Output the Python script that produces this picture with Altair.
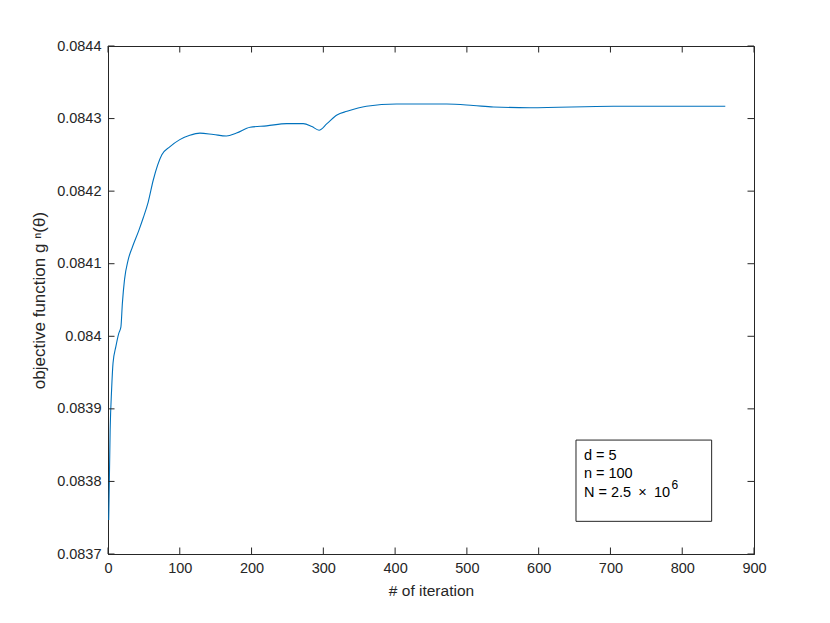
import altair as alt
import pandas as pd

# ---- data ----
iterations = [1, 3, 5, 7, 11, 15, 18, 20, 23, 28, 34, 43, 49, 56, 63, 75, 86,
              100, 114, 128, 147, 165, 179, 198, 221, 249, 272, 284, 294, 305,
              319, 333, 360, 402, 472, 509, 537, 588, 704, 860]
objective = [0.083747, 0.083871, 0.083926, 0.083963, 0.083986, 0.084004,
             0.084013, 0.084045, 0.084078, 0.084105, 0.084123, 0.084146,
             0.084163, 0.084185, 0.084215, 0.084250, 0.084261, 0.084271,
             0.084277, 0.084280, 0.084278, 0.084276, 0.084280, 0.084288,
             0.084290, 0.084293, 0.084293, 0.084289, 0.084284, 0.084293,
             0.084305, 0.084310, 0.084317, 0.084320, 0.084320, 0.084318,
             0.084316, 0.084315, 0.084317, 0.084317]
x_ticks = [0, 100, 200, 300, 400, 500, 600, 700, 800, 900]
y_ticks = [0.0837, 0.0838, 0.0839, 0.0840, 0.0841, 0.0842, 0.0843, 0.0844]
note_lines = ["d = 5", "n = 100", "N = 2.5\u2002\u00d7\u200210"]
note_x = [663, 663, 663]
note_y = [0.0838295, 0.0838047, 0.0837785]
sup_text = ["6"]
sup_x = [785]
sup_y = [0.0837895]
box_x = [652, 841]
box_y = [0.083857, 0.083745]

W, H = 646, 508
FONT = "Liberation Sans"
DARK = "#262626"
TICK = 6.5

xs = alt.Scale(domain=[0, 900], nice=False)
ys = alt.Scale(domain=[0.0837, 0.0844], nice=False, zero=False)
XT = "# of iteration"
YT = "objective function g \u207f(\u03b8)"

df = pd.DataFrame({"iteration": iterations, "objective": objective})

line = alt.Chart(df).mark_line(color="#0072BD", strokeWidth=1.1, interpolate="monotone").encode(
    x=alt.X("iteration:Q", scale=xs,
            axis=alt.Axis(title=XT, values=x_ticks, labelFlush=False, labelOverlap=False,
                          titleFontSize=15.5)),
    y=alt.Y("objective:Q", scale=ys,
            axis=alt.Axis(title=YT, values=y_ticks, format=".4~f", labelFlush=False,
                          labelOverlap=False, titleFontSize=17, titlePadding=8)),
)

box_df = pd.DataFrame({"iteration": [box_x[0]], "iteration2": [box_x[1]],
                       "objective": [box_y[0]], "objective2": [box_y[1]]})
box = alt.Chart(box_df).mark_rect(fill="white", stroke=DARK, strokeWidth=1).encode(
    x=alt.X("iteration:Q", scale=xs, title=XT), x2="iteration2:Q",
    y=alt.Y("objective:Q", scale=ys, title=YT), y2="objective2:Q",
)

note_df = pd.DataFrame({"iteration": note_x, "objective": note_y, "label": note_lines})
notes = alt.Chart(note_df).mark_text(align="left", baseline="alphabetic", font=FONT,
                                     fontSize=14.5, color="#000000").encode(
    x=alt.X("iteration:Q", scale=xs, title=XT),
    y=alt.Y("objective:Q", scale=ys, title=YT),
    text="label:N",
)
sup_df = pd.DataFrame({"iteration": sup_x, "objective": sup_y, "label": sup_text})
sup = alt.Chart(sup_df).mark_text(align="left", baseline="alphabetic", font=FONT,
                                  fontSize=12, color="#000000").encode(
    x=alt.X("iteration:Q", scale=xs, title=XT),
    y=alt.Y("objective:Q", scale=ys, title=YT),
    text="label:N",
)

xt_df = pd.DataFrame({"iteration": x_ticks})
yt_df = pd.DataFrame({"objective": y_ticks})
tick_bottom = alt.Chart(xt_df).mark_rule(color=DARK, strokeWidth=1).encode(
    x=alt.X("iteration:Q", scale=xs, title=XT), y=alt.value(H), y2=alt.value(H - TICK))
tick_top = alt.Chart(xt_df).mark_rule(color=DARK, strokeWidth=1).encode(
    x=alt.X("iteration:Q", scale=xs, title=XT), y=alt.value(0), y2=alt.value(TICK))
tick_left = alt.Chart(yt_df).mark_rule(color=DARK, strokeWidth=1).encode(
    y=alt.Y("objective:Q", scale=ys, title=YT), x=alt.value(0), x2=alt.value(TICK))
tick_right = alt.Chart(yt_df).mark_rule(color=DARK, strokeWidth=1).encode(
    y=alt.Y("objective:Q", scale=ys, title=YT), x=alt.value(W), x2=alt.value(W - TICK))

chart = alt.layer(line, box, notes, sup, tick_bottom, tick_top, tick_left, tick_right).properties(
    width=W, height=H,
    padding={"left": 100, "top": 38, "right": 60, "bottom": 55},
    autosize="none",
    background="white",
).configure_axis(
    grid=False, ticks=False, domainColor=DARK, domainWidth=1,
    labelFont=FONT, labelFontSize=14.5, labelColor=DARK, labelPadding=7,
    titleFont=FONT, titleFontWeight="normal", titleColor=DARK,
    titlePadding=9,
).configure_view(stroke=DARK, strokeWidth=1)

chart.save("out.html", embed_options={"renderer": "svg", "actions": False})
